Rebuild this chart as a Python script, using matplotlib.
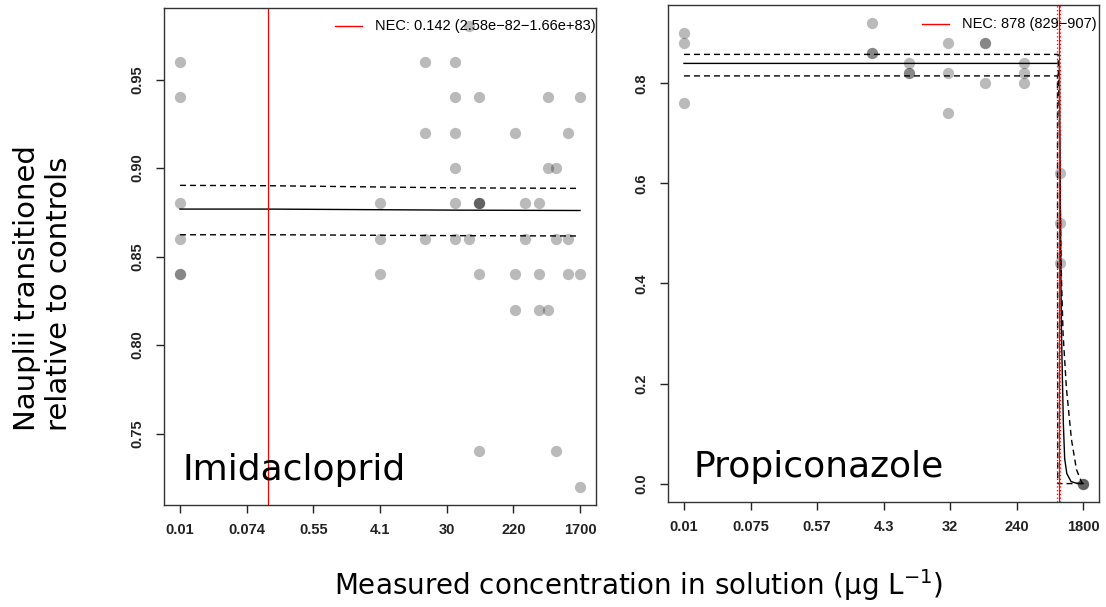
import numpy as np
import matplotlib
matplotlib.use("Agg")
import matplotlib.pyplot as plt

plt.rcParams['font.family'] = ['Liberation Sans', 'DejaVu Sans']

# Imidacloprid: measured concentration (ug/L) and response
imi_conc = [0.01, 0.01, 0.01, 0.01, 0.01, 0.01,
            4.1, 4.1, 4.1,
            16, 16, 16,
            40, 40, 40, 40, 40, 40,
            60, 60,
            80, 80, 80, 80, 80, 80,
            240, 240, 240,
            320, 320,
            490, 490, 490,
            640, 640, 640,
            815, 815, 815,
            1200, 1200, 1200,
            1700, 1700, 1700]
imi_resp = [0.96, 0.94, 0.88, 0.86, 0.84, 0.84,
            0.88, 0.86, 0.84,
            0.96, 0.92, 0.86,
            0.96, 0.94, 0.92, 0.90, 0.88, 0.86,
            0.98, 0.86,
            0.94, 0.88, 0.88, 0.88, 0.84, 0.74,
            0.92, 0.84, 0.82,
            0.88, 0.86,
            0.88, 0.84, 0.82,
            0.94, 0.90, 0.82,
            0.90, 0.86, 0.74,
            0.92, 0.86, 0.84,
            0.94, 0.84, 0.72]

# fitted NEC model and 95% band
imi_fit_x = [0.01, 0.142, 40, 1700]
imi_fit = [0.8768, 0.8768, 0.8762, 0.8760]
imi_up = [0.8902, 0.8900, 0.8888, 0.8885]
imi_lo = [0.8623, 0.8623, 0.8618, 0.8616]
imi_nec = 0.142
imi_ticks = ["0.01", "0.074", "0.55", "4.1", "30", "220", "1700"]

# Propiconazole
pro_conc = [0.01, 0.01, 0.01,
            3.0, 3.0, 3.0,
            9.1, 9.1, 9.1,
            30, 30, 30,
            91, 91, 91,
            300, 300, 300,
            900, 900, 900,
            1800, 1800, 1800]
pro_resp = [0.90, 0.88, 0.76,
            0.92, 0.86, 0.86,
            0.84, 0.82, 0.82,
            0.88, 0.82, 0.74,
            0.88, 0.88, 0.80,
            0.84, 0.82, 0.80,
            0.62, 0.52, 0.44,
            0.0, 0.0, 0.0]

pro_fit_x = [0.01, 878, 900, 930, 965, 990, 1030, 1100, 1250, 1450, 1800]
pro_fit = [0.84, 0.84, 0.60, 0.32, 0.20, 0.12, 0.05, 0.02, 0.004, 0.001, 0.0]
pro_up_x = [0.01, 845, 880, 920, 981, 1087, 1266, 1474, 1717, 1800]
pro_up = [0.858, 0.858, 0.70, 0.45, 0.30, 0.19, 0.088, 0.028, 0.003, 0.0]
pro_lo_x = [0.01, 829, 835, 1800]
pro_lo = [0.815, 0.815, 0.0, 0.0]
pro_nec = 878
pro_nec_ci = [829, 907]
pro_ticks = ["0.01", "0.075", "0.57", "4.3", "32", "240", "1800"]

fig = plt.figure(figsize=(11.06, 6.07), dpi=100)
ax1 = fig.add_axes([0.1483, 0.168, 0.3906, 0.8188])
ax2 = fig.add_axes([0.604, 0.173, 0.3897, 0.8188])

dash = (0, (4.3, 2.9))


def panel(ax, conc, resp, ticks, yticks, ytickfmt):
    ax.scatter(conc, resp, s=66, color='black', alpha=0.27, linewidths=0, zorder=2)
    ax.set_xscale('log')
    lo, hi = np.log(min(conc)), np.log(max(conc))
    pad = 0.04 * (hi - lo)
    ax.set_xlim(np.exp(lo - pad), np.exp(hi + pad))
    ylo, yhi = min(resp), max(resp)
    ypad = 0.04 * (yhi - ylo)
    ax.set_ylim(ylo - ypad, yhi + ypad)
    ax.set_xticks(np.exp(np.linspace(lo, hi, len(ticks))))
    ax.set_xticklabels(ticks)
    ax.xaxis.set_minor_locator(matplotlib.ticker.NullLocator())
    ax.set_yticks(yticks)
    ax.set_yticklabels([ytickfmt % v for v in yticks], rotation=90, va='center')
    ax.tick_params(length=6, width=1, labelsize=10.5, color='#222222')
    ax.tick_params(axis='x', pad=7)
    ax.tick_params(axis='y', pad=8)
    for lab in ax.get_xticklabels() + ax.get_yticklabels():
        lab.set_fontweight('bold')
        lab.set_color('#222222')
    for sp in ax.spines.values():
        sp.set_linewidth(1.0)
        sp.set_color('#333333')


panel(ax1, imi_conc, imi_resp, imi_ticks, [0.75, 0.80, 0.85, 0.90, 0.95], "%.2f")
ax1.plot(imi_fit_x, imi_fit, color='black', lw=1.0)
ax1.plot(imi_fit_x, imi_up, color='black', lw=1.0, linestyle=dash)
ax1.plot(imi_fit_x, imi_lo, color='black', lw=1.0, linestyle=dash)
ax1.axvline(imi_nec, color='red', lw=0.9)
ax1.plot([0.396, 0.458], [0.964, 0.964], transform=ax1.transAxes, color='red', lw=1.0)
ax1.text(0.488, 0.964, "NEC: 0.142 (2.58e\u221282\u22121.66e+83)", transform=ax1.transAxes,
         fontsize=10.5, va='center', ha='left', clip_on=True)
ax1.text(0.042, 0.05, "Imidacloprid", transform=ax1.transAxes, family='DejaVu Sans',
         fontsize=26, va='baseline', ha='left')

panel(ax2, pro_conc, pro_resp, pro_ticks, [0.0, 0.2, 0.4, 0.6, 0.8], "%.1f")
ax2.plot(pro_fit_x, pro_fit, color='black', lw=1.0)
ax2.plot(pro_up_x, pro_up, color='black', lw=1.0, linestyle=dash)
ax2.plot(pro_lo_x, pro_lo, color='black', lw=1.0, linestyle=dash)
ax2.axvline(pro_nec, color='red', lw=0.9)
for v in pro_nec_ci:
    ax2.axvline(v, color='red', lw=0.9, linestyle=(0, (1, 2)))
ax2.plot([0.589, 0.652], [0.962, 0.962], transform=ax2.transAxes, color='red', lw=1.0)
ax2.text(0.682, 0.962, "NEC: 878 (829\u2212907)", transform=ax2.transAxes,
         fontsize=10.5, va='center', ha='left')
ax2.text(0.058, 0.05, "Propiconazole", transform=ax2.transAxes, family='DejaVu Sans',
         fontsize=26, va='baseline', ha='left')

fig.text(43 / 1106, 1 - 288 / 607, "Nauplii transitioned\nrelative to controls",
         family='DejaVu Sans', fontsize=21, rotation=90, ha='center', va='center',
         multialignment='left')
fig.text(639 / 1106, 1 - 585 / 607, "Measured concentration in solution (\u00b5g L$^{-1}$)",
         family='DejaVu Sans', fontsize=20, ha='center', va='center')

fig.savefig("out.png", dpi=100)
